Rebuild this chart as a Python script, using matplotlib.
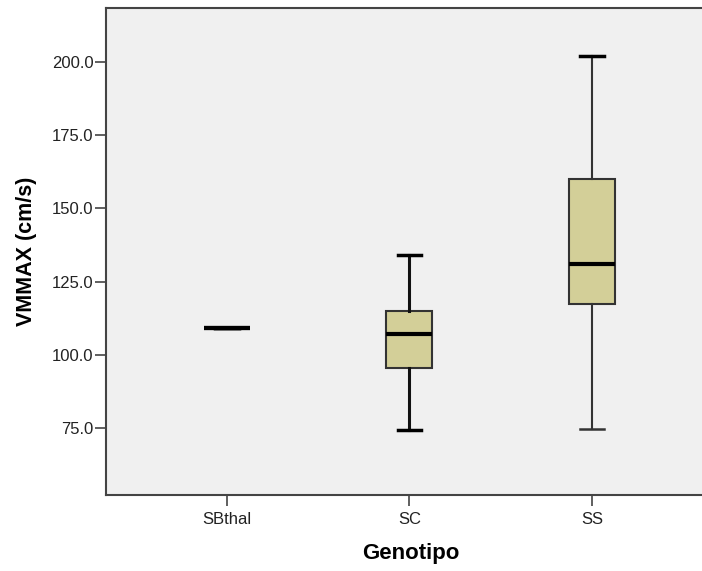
import matplotlib.pyplot as plt

plt.rcParams['font.family'] = ['Liberation Sans', 'DejaVu Sans']

# datos (VMMAX por genotipo)
genotipos = ["SBthal", "SC", "SS"]
whislo = [109.0, 74.3, 74.7]
q1 = [109.0, 95.6, 117.3]
mediana = [109.0, 107.0, 131.0]
q3 = [109.0, 115.1, 160.0]
whishi = [109.0, 134.1, 202.0]

yticks = [75.0, 100.0, 125.0, 150.0, 175.0, 200.0]

stats = []
for i, g in enumerate(genotipos):
    stats.append({"label": g, "whislo": whislo[i], "q1": q1[i], "med": mediana[i],
                  "q3": q3[i], "whishi": whishi[i], "fliers": []})

fig = plt.figure(figsize=(7.02, 5.71), dpi=100)
ax = fig.add_axes([106 / 702, 76 / 571, 596 / 702, 487 / 571])
ax.set_facecolor("#F0F0F0")

bp = ax.bxp(stats, positions=[1, 2, 3], widths=0.252, capwidths=0.13, patch_artist=True,
            showfliers=False,
            boxprops=dict(facecolor="#D3CF98", edgecolor="#333333", linewidth=1.5),
            medianprops=dict(color="black", linewidth=3),
            whiskerprops=dict(color="#111111", linewidth=2.2),
            capprops=dict(color="black", linewidth=2.5))

# SS: bigotes más finos, como en el original
for w in bp["whiskers"][4:]:
    w.set_linewidth(1.5)
    w.set_color("#333333")
bp["caps"][4].set_linewidth(1.8)
bp["caps"][4].set_color("#333333")

# SBthal solo tiene un valor: línea más ancha
ax.hlines(mediana[0], 1 - 0.126, 1 + 0.126, color="black", linewidth=3, zorder=5)

ax.set_xlim(0.337, 3.603)
ax.set_ylim(52.1, 218.4)
ax.set_yticks(yticks)
ax.set_yticklabels([f"{v:.1f}" for v in yticks])

for s in ax.spines.values():
    s.set_color("#444444")
    s.set_linewidth(1.5)
ax.spines["right"].set_visible(False)

ax.tick_params(axis="both", length=8, width=1.2, color="#444444", labelsize=12,
               labelcolor="#222222")
ax.tick_params(axis="y", pad=1)
ax.tick_params(axis="x", pad=4)

ax.set_ylabel("VMMAX (cm/s)", fontsize=15.5, fontweight="bold", labelpad=11)
ax.set_xlabel("Genotipo", fontsize=16, fontweight="bold", labelpad=12)
ax.xaxis.label.set_x(0.512)

plt.savefig("out.png", dpi=100)
plt.close(fig)
